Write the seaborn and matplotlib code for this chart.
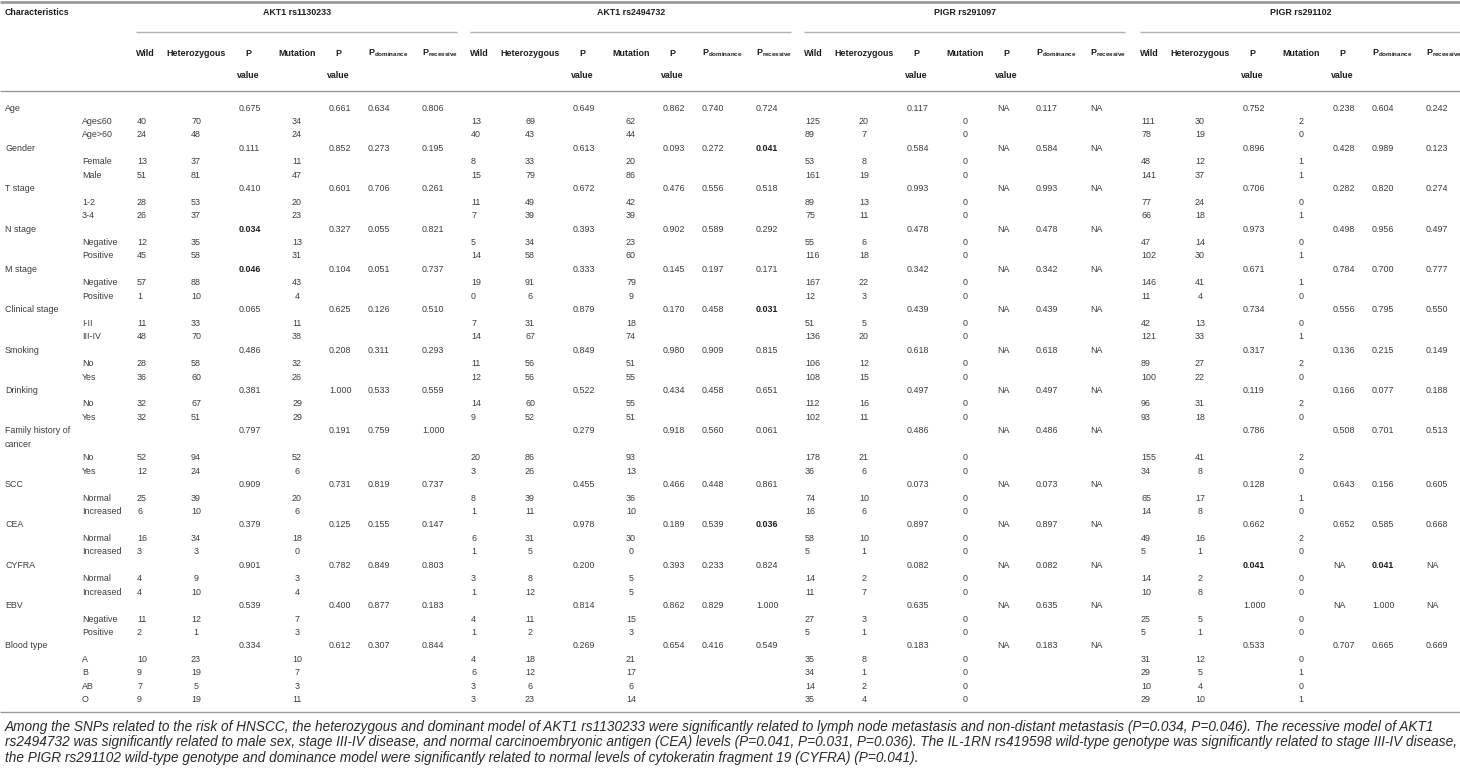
import textwrap
import numpy as np
import pandas as pd
import seaborn as sns
import matplotlib.pyplot as plt

# characteristics and their sub groups
categories = ['Age', 'Gender', 'T stage', 'N stage', 'M stage', 'Clinical stage', 'Smoking',
              'Drinking', 'Family history of cancer', 'SCC', 'CEA', 'CYFRA', 'EBV', 'Blood type']
subgroups = [['Age≤60', 'Age>60'], ['Female', 'Male'], ['1-2', '3-4'], ['Negative', 'Positive'],
             ['Negative', 'Positive'], ['I-II', 'III-IV'], ['No', 'Yes'], ['No', 'Yes'], ['No', 'Yes'],
             ['Normal', 'Increased'], ['Normal', 'Increased'], ['Normal', 'Increased'],
             ['Negative', 'Positive'], ['A', 'B', 'AB', 'O']]

snps = ['AKT1 rs1130233', 'AKT1 rs2494732', 'PIGR rs291097', 'PIGR rs291102']
NA = None

# AKT1 rs1130233
wild_1 = [40, 24, 13, 51, 28, 26, 12, 45, 57, 1, 11, 48, 28, 36, 32, 32, 52, 12, 25, 6, 16, 3, 4, 4, 11, 2, 10, 9, 7, 9]
het_1 = [70, 48, 37, 81, 53, 37, 35, 58, 88, 10, 33, 70, 58, 60, 67, 51, 94, 24, 39, 10, 34, 3, 9, 10, 12, 1, 23, 19, 5, 19]
mut_1 = [34, 24, 11, 47, 20, 23, 13, 31, 43, 4, 11, 38, 32, 26, 29, 29, 52, 6, 20, 6, 18, 0, 3, 4, 7, 3, 10, 7, 3, 11]
p_het_1 = [0.675, 0.111, 0.410, 0.034, 0.046, 0.065, 0.486, 0.381, 0.797, 0.909, 0.379, 0.901, 0.539, 0.334]
p_mut_1 = [0.661, 0.852, 0.601, 0.327, 0.104, 0.625, 0.208, 1.000, 0.191, 0.731, 0.125, 0.782, 0.400, 0.612]
p_dom_1 = [0.634, 0.273, 0.706, 0.055, 0.051, 0.126, 0.311, 0.533, 0.759, 0.819, 0.155, 0.849, 0.877, 0.307]
p_rec_1 = [0.806, 0.195, 0.261, 0.821, 0.737, 0.510, 0.293, 0.559, 1.000, 0.737, 0.147, 0.803, 0.183, 0.844]

# AKT1 rs2494732
wild_2 = [13, 40, 8, 15, 11, 7, 5, 14, 19, 0, 7, 14, 11, 12, 14, 9, 20, 3, 8, 1, 6, 1, 3, 1, 4, 1, 4, 6, 3, 3]
het_2 = [69, 43, 33, 79, 49, 39, 34, 58, 91, 6, 31, 67, 56, 56, 60, 52, 86, 26, 39, 11, 31, 5, 8, 12, 11, 2, 18, 12, 6, 23]
mut_2 = [62, 44, 20, 86, 42, 39, 23, 60, 79, 9, 18, 74, 51, 55, 55, 51, 93, 13, 36, 10, 30, 0, 5, 5, 15, 3, 21, 17, 6, 14]
p_het_2 = [0.649, 0.613, 0.672, 0.393, 0.333, 0.879, 0.849, 0.522, 0.279, 0.455, 0.978, 0.200, 0.814, 0.269]
p_mut_2 = [0.862, 0.093, 0.476, 0.902, 0.145, 0.170, 0.980, 0.434, 0.918, 0.466, 0.189, 0.393, 0.862, 0.654]
p_dom_2 = [0.740, 0.272, 0.556, 0.589, 0.197, 0.458, 0.909, 0.458, 0.560, 0.448, 0.539, 0.233, 0.829, 0.416]
p_rec_2 = [0.724, 0.041, 0.518, 0.292, 0.171, 0.031, 0.815, 0.651, 0.061, 0.861, 0.036, 0.824, 1.000, 0.549]

# PIGR rs291097
wild_3 = [125, 89, 53, 161, 89, 75, 55, 116, 167, 12, 51, 136, 106, 108, 112, 102, 178, 36, 74, 16, 58, 5, 14, 11, 27, 5, 35, 34, 14, 35]
het_3 = [20, 7, 8, 19, 13, 11, 6, 18, 22, 3, 5, 20, 12, 15, 16, 11, 21, 6, 10, 6, 10, 1, 2, 7, 3, 1, 8, 1, 2, 4]
mut_3 = [0, 0, 0, 0, 0, 0, 0, 0, 0, 0, 0, 0, 0, 0, 0, 0, 0, 0, 0, 0, 0, 0, 0, 0, 0, 0, 0, 0, 0, 0]
p_het_3 = [0.117, 0.584, 0.993, 0.478, 0.342, 0.439, 0.618, 0.497, 0.486, 0.073, 0.897, 0.082, 0.635, 0.183]
p_mut_3 = [NA, NA, NA, NA, NA, NA, NA, NA, NA, NA, NA, NA, NA, NA]
p_dom_3 = [0.117, 0.584, 0.993, 0.478, 0.342, 0.439, 0.618, 0.497, 0.486, 0.073, 0.897, 0.082, 0.635, 0.183]
p_rec_3 = [NA, NA, NA, NA, NA, NA, NA, NA, NA, NA, NA, NA, NA, NA]

# PIGR rs291102
wild_4 = [111, 78, 48, 141, 77, 66, 47, 102, 146, 11, 42, 121, 89, 100, 96, 93, 155, 34, 65, 14, 49, 5, 14, 10, 25, 5, 31, 29, 10, 29]
het_4 = [30, 19, 12, 37, 24, 18, 14, 30, 41, 4, 13, 33, 27, 22, 31, 18, 41, 8, 17, 8, 16, 1, 2, 8, 5, 1, 12, 5, 4, 10]
mut_4 = [2, 0, 1, 1, 0, 1, 0, 1, 1, 0, 0, 1, 2, 0, 2, 0, 2, 0, 1, 0, 2, 0, 0, 0, 0, 0, 0, 1, 0, 1]
p_het_4 = [0.752, 0.896, 0.706, 0.973, 0.671, 0.734, 0.317, 0.119, 0.786, 0.128, 0.662, 0.041, 1.000, 0.533]
p_mut_4 = [0.238, 0.428, 0.282, 0.498, 0.784, 0.556, 0.136, 0.166, 0.508, 0.643, 0.652, NA, NA, 0.707]
p_dom_4 = [0.604, 0.989, 0.820, 0.956, 0.700, 0.795, 0.215, 0.077, 0.701, 0.156, 0.585, 0.041, 1.000, 0.665]
p_rec_4 = [0.242, 0.123, 0.274, 0.497, 0.777, 0.550, 0.149, 0.188, 0.513, 0.605, 0.668, NA, NA, 0.669]

caption_lines = [
    'Among the SNPs related to the risk of HNSCC, the heterozygous and dominant model of AKT1 rs1130233 were significantly related to lymph node metastasis and non-distant metastasis (P=0.034, P=0.046). The recessive model of AKT1',
    'rs2494732 was significantly related to male sex, stage III-IV disease, and normal carcinoembryonic antigen (CEA) levels (P=0.041, P=0.031, P=0.036). The IL-1RN rs419598 wild-type genotype was significantly related to stage III-IV disease,',
    'the PIGR rs291102 wild-type genotype and dominance model were significantly related to normal levels of cytokeratin fragment 19 (CYFRA) (P=0.041).',
]

blocks = [
    (wild_1, het_1, mut_1, p_het_1, p_mut_1, p_dom_1, p_rec_1),
    (wild_2, het_2, mut_2, p_het_2, p_mut_2, p_dom_2, p_rec_2),
    (wild_3, het_3, mut_3, p_het_3, p_mut_3, p_dom_3, p_rec_3),
    (wild_4, het_4, mut_4, p_het_4, p_mut_4, p_dom_4, p_rec_4),
]

# layout (pixels)
W, H = 1460, 778
BLOCK_X = [136, 470, 804, 1140]
ROW0 = 108
ROW_H = 13.45
FS = 6.4
CAP_FS = 9.85
TXT = '#3c3c3c'
HEAD = '#1e1e1e'
RULE = '#9a9a9a'

sns.set_theme(style='white')
plt.rcParams['font.family'] = ['Liberation Sans', 'DejaVu Sans']
plt.rcParams['mathtext.fontset'] = 'custom'
plt.rcParams['mathtext.rm'] = 'Liberation Sans'
plt.rcParams['mathtext.bf'] = 'Liberation Sans:bold'

fig = plt.figure(figsize=(W / 100, H / 100), dpi=100)
ax = fig.add_axes([0, 0, 1, 1])
ax.set_xlim(0, W)
ax.set_ylim(H, 0)
ax.axis('off')


def put(x, y, s, ha='left', bold=False, color=TXT, size=FS):
    ax.text(x, y, s, ha=ha, va='center', fontsize=size, color=color,
            fontweight='bold' if bold else 'normal')


def fmt_p(v):
    return 'NA' if v is None else '{:.3f}'.format(v)


# rules
ax.hlines(1.5, 0, W, color=RULE, lw=2)
ax.hlines(91, 0, W, color=RULE, lw=1)

# header
put(5, 12, 'Characteristics', bold=True, color=HEAD)
for bx, name in zip(BLOCK_X, snps):
    put(bx + 161, 12, name, ha='center', bold=True, color=HEAD)
    ax.hlines(32, bx, min(bx + 321, W), color='#b0b0b0', lw=1)
    put(bx, 53, 'Wild', bold=True, color=HEAD)
    put(bx + 60, 53, 'Heterozygous', ha='center', bold=True, color=HEAD)
    for px in (bx + 103, bx + 193):
        put(px + 9.5, 53, 'P', ha='center', bold=True, color=HEAD)
        put(px + 9.5, 75, 'value', ha='center', bold=True, color=HEAD)
    put(bx + 161, 53, 'Mutation', ha='center', bold=True, color=HEAD)
    put(bx + 232, 53, r'$\mathbf{P}_{\mathbf{dominance}}$', color=HEAD)
    put(bx + 286, 53, r'$\mathbf{P}_{\mathbf{recessive}}$', color=HEAD)

# body
row = 0
k = 0
for ci, cat in enumerate(categories):
    lines = textwrap.wrap(cat, 17)
    y = ROW0 + row * ROW_H
    for li, ln in enumerate(lines):
        put(5, y + li * ROW_H, ln)
    for bx, (wild, het, mut, p_het, p_mut, p_dom, p_rec) in zip(BLOCK_X, blocks):
        for px, vals in ((bx + 103, p_het), (bx + 193, p_mut), (bx + 232, p_dom), (bx + 286, p_rec)):
            v = vals[ci]
            sig = v is not None and v < 0.05
            put(px, y, fmt_p(v), bold=sig, color=HEAD if sig else TXT)
    row += len(lines)
    for sub in subgroups[ci]:
        y = ROW0 + row * ROW_H
        put(82, y, sub)
        for bx, (wild, het, mut, *_) in zip(BLOCK_X, blocks):
            put(bx + 1, y, str(wild[k]))
            put(bx + 60, y, str(het[k]), ha='center')
            put(bx + 161, y, str(mut[k]), ha='center')
        row += 1
        k += 1

bottom = ROW0 + (row - 1) * ROW_H + 12.5
ax.hlines(bottom, 0, W, color=RULE, lw=1)

for i, ln in enumerate(caption_lines):
    ax.text(5, bottom + 14.5 + i * 15.5, ln, ha='left', va='center', fontsize=CAP_FS,
            style='italic', color='#2a2a2a')

fig.savefig('out.png', dpi=100)
